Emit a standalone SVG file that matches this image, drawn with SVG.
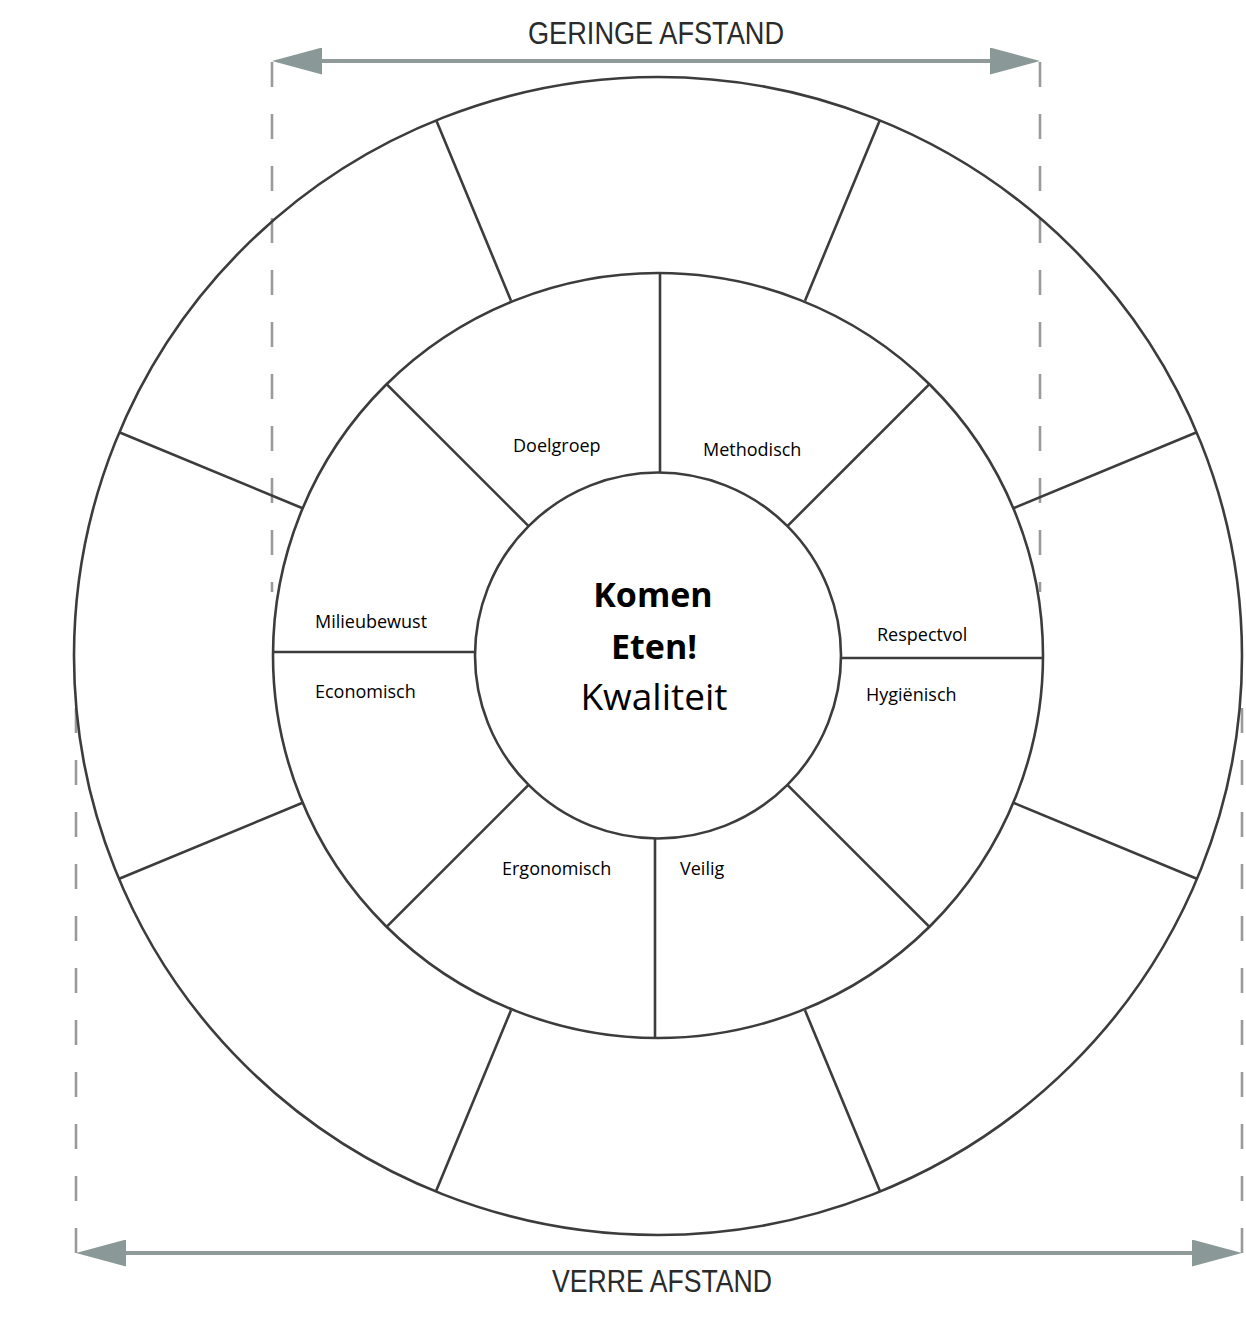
<svg xmlns="http://www.w3.org/2000/svg" width="1246" height="1334" viewBox="0 0 1246 1334">
  <defs>
    <style>
      .ring { fill: none; stroke: #3c3c3c; stroke-width: 2.6; }
      .div { stroke: #3c3c3c; stroke-width: 2.6; fill: none; }
      .dash { stroke: #9a9a9a; stroke-width: 2.6; stroke-dasharray: 25 27; fill: none; }
      .dim { stroke: #8f9a99; stroke-width: 4; fill: none; }
      .lbl { font-family: "Open Sans", "Liberation Sans", sans-serif; font-size: 18px; fill: #000; }
      .ttl { font-family: "Liberation Sans", "DejaVu Sans", sans-serif; font-size: 31px; fill: #2a2a2a; }
      .ctrB { font-family: "Open Sans", "Liberation Sans", sans-serif; font-size: 34px; font-weight: bold; fill: #000; }
      .ctr { font-family: "Open Sans", "Liberation Sans", sans-serif; font-size: 37px; fill: #000; }
    </style>
    <marker id="arrow" markerUnits="userSpaceOnUse" markerWidth="50" markerHeight="27" refX="10" refY="13.5" orient="auto-start-reverse" viewBox="0 0 50 27">
      <path d="M0,0 L50,13.5 L0,27 Z" fill="#8a9998"/>
    </marker>
  </defs>
  <rect width="1246" height="1334" fill="#ffffff"/>

  <g id="connectors">
    <line class="dash" x1="272" y1="62" x2="272" y2="592"/>
    <line class="dash" x1="1040" y1="62" x2="1040" y2="592"/>
    <line class="dash" x1="76" y1="1253" x2="76" y2="706"/>
    <line class="dash" x1="1242" y1="1253" x2="1242" y2="706"/>
    <line class="dim" x1="312" y1="61" x2="1000" y2="61" marker-start="url(#arrow)" marker-end="url(#arrow)"/>
    <line class="dim" x1="116" y1="1253" x2="1202" y2="1253" marker-start="url(#arrow)" marker-end="url(#arrow)"/>
  </g>

  <g id="title-top">
    <text class="ttl" x="528" y="44" textLength="256" lengthAdjust="spacingAndGlyphs">GERINGE AFSTAND</text>
  </g>
  <g id="title-bottom">
    <text class="ttl" x="552" y="1292" textLength="220" lengthAdjust="spacingAndGlyphs">VERRE AFSTAND</text>
  </g>

  <g id="outer-ring">
    <ellipse class="ring" cx="658" cy="656" rx="584" ry="579"/>
    <line class="div" x1="511" y1="300.7" x2="436.1" y2="119.9"/>
    <line class="div" x1="805" y1="300.7" x2="879.9" y2="119.9"/>
    <line class="div" x1="1012.8" y1="508.5" x2="1196.8" y2="432.3"/>
    <line class="div" x1="1012.8" y1="802.5" x2="1196.8" y2="878.7"/>
    <line class="div" x1="805" y1="1010.3" x2="879.9" y2="1191.1"/>
    <line class="div" x1="511" y1="1010.3" x2="436.1" y2="1191.1"/>
    <line class="div" x1="303.2" y1="802.5" x2="119.2" y2="878.7"/>
    <line class="div" x1="303.2" y1="508.5" x2="119.2" y2="432.3"/>
  </g>

  <g id="middle-ring">
    <ellipse class="ring" cx="658" cy="655.5" rx="385" ry="382.5"/>
    <line class="div" x1="660" y1="472.5" x2="660" y2="273.5"/>
    <line class="div" x1="655" y1="838.5" x2="655" y2="1037.5"/>
    <line class="div" x1="475" y1="652" x2="273.5" y2="652"/>
    <line class="div" x1="841" y1="658" x2="1042.5" y2="658"/>
    <line class="div" x1="528.6" y1="526.1" x2="386.8" y2="384.3"/>
    <line class="div" x1="787.4" y1="526.1" x2="929.2" y2="384.3"/>
    <line class="div" x1="528.6" y1="784.9" x2="386.8" y2="926.7"/>
    <line class="div" x1="787.4" y1="784.9" x2="929.2" y2="926.7"/>
  </g>

  <g id="node-doelgroep"><text class="lbl" x="513" y="452">Doelgroep</text></g>
  <g id="node-methodisch"><text class="lbl" x="703" y="456">Methodisch</text></g>
  <g id="node-milieubewust"><text class="lbl" x="315" y="628">Milieubewust</text></g>
  <g id="node-economisch"><text class="lbl" x="315" y="698">Economisch</text></g>
  <g id="node-respectvol"><text class="lbl" x="877" y="641">Respectvol</text></g>
  <g id="node-hygienisch"><text class="lbl" x="866" y="701">Hygiënisch</text></g>
  <g id="node-ergonomisch"><text class="lbl" x="502" y="875">Ergonomisch</text></g>
  <g id="node-veilig"><text class="lbl" x="680" y="875">Veilig</text></g>

  <g id="node-center">
    <circle class="ring" cx="658" cy="655.5" r="183"/>
    <text class="ctrB" x="653" y="607" text-anchor="middle">Komen</text>
    <text class="ctrB" x="654" y="659" text-anchor="middle">Eten!</text>
    <text class="ctr" x="654" y="710" text-anchor="middle">Kwaliteit</text>
  </g>
</svg>
